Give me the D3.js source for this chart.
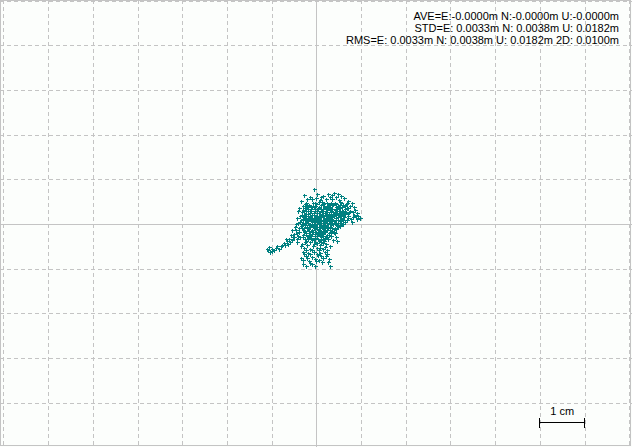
<!DOCTYPE html>
<html>
<head>
<meta charset="utf-8">
<script src="https://cdn.jsdelivr.net/npm/d3@7"></script>
<style>
  html, body { margin: 0; padding: 0; background: #fcfefc; }
  svg { display: block; }
</style>
</head>
<body>
<div id="chart"></div>
<script>
const width = 632, height = 447;

// position solution offsets, E / N in mm
const eastMm = [
  -0.5,-2.8,-1.5,0.2,1.5,4.0,4.5,5.5,6.2,3.0,2.2,-3.5,-1.0,0.8,7.0,5.0,3.6,6.8,8.0,7.6,
  8.6,9.4,9.8,8.9,8.2,7.8,7.2,7.9,6.8,7.5,9.0,6.5,
  -2.2,-0.8,0.5,1.8,2.9,4.2,5.6,
  -3.0,-1.6,-0.3,1.0,2.3,3.5,4.8,6.0,
  -2.5,-1.1,0.3,1.5,2.8,4.1,5.3,6.4,
  -3.2,-1.9,-0.6,0.8,2.0,3.3,4.6,5.8,
  -2.7,-1.3,0.0,1.3,2.6,3.9,5.2,6.2,
  -3.4,-2.0,-0.7,0.6,1.9,3.2,4.5,5.6,
  -2.9,-1.5,-0.2,1.1,2.4,3.7,4.9,6.0,
  -3.5,-2.1,-0.8,0.5,1.8,3.0,4.2,5.4,
  -3.0,-1.6,-0.3,1.0,2.3,3.6,4.5,
  -2.4,-1.0,0.4,1.6,2.8,3.3,
  -3.0,-1.7,-0.3,1.0,2.2,
  -2.3,-0.9,0.6,1.8,
  -1.9,-0.6,0.7,2.0,-2.4,-1.2,0.1,1.4,2.5,
  -1.8,-0.5,0.9,2.1,-2.3,-1.0,0.3,1.7,2.9,
  -1.9,-0.4,0.9,2.2,-2.5,-1.2,0.2,1.5,2.7,
  -2.0,-0.6,0.8,2.0,-1.3,0.0,1.3,-2.0,-0.4,0.9,
  3.8,5.0,4.4,5.7,3.7,5.0,4.3,5.6,
  -11.0,-10.6,-10.0,-9.4,-10.3,-9.0,-8.3,-7.7,-7.2,-6.6,-6.0,-6.3,-5.6,-5.0,-4.6,-5.2,-4.4,-4.0,-4.8,-4.2,-5.4,-3.8,
  -3.8,-4.1,-3.6,-4.3,
  -3.2,-2.0,-0.6,0.9,2.1,3.0,-2.7,-1.4,0.1,1.5,2.5,-3.0,-1.8,-0.5,0.9,2.3,-2.4,-1.0,0.4,1.6,2.8,
  -2.9,-1.6,0.0,-0.9,-3.0,3.0,2.6,1.2,-2.2,-3.5,-0.2,
  4.2,4.4,4.6,3.8,
  -2.6,-1.2,0.0,1.4,2.6,3.0,4.5,5.3,6.4,
  -3.0,-1.8,-0.4,1.0,2.2,3.5,4.7,6.0,
  -2.6,-1.3,0.2,1.5,2.8,3.0,4.0,5.3,6.6,
  -3.0,-1.7,-0.3,1.0,2.3,3.5,4.8,6.0,
  -2.6,-1.2,0.2,1.5,2.8,4.0,5.2,6.5,
  -3.2,-1.9,-0.6,0.7,2.0,3.2,4.4,5.5,
  -2.7,-1.4,0.0,1.2,2.5,3.6,4.8,
  -2.5,-1.0,0.4,1.7,3.0,4.0,
  -1.6,-0.2,1.2,2.4,
  -2.5,-1.2,0.3,1.5,2.6,
  -10.8,-9.8,-8.8,-8.0,-7.0,-6.8,-5.8,-5.5,-4.9,-4.3,-4.6,-3.9,-4.4,-3.6,
  -2.6,-1.3,0.2,1.5,-3.4,-0.8,0.8,2.0,-2.2,-0.9,0.5,1.9,-2.8,-1.4,0.1,1.0,-2.0,-0.4,2.2,-1.3,0.6,
  -2.0,-0.2,1.2,2.4,3.2,5.2,6.6,
  -2.2,-0.9,0.6,1.8,3.0,4.4,5.8,6.9,
  -2.8,-1.5,-0.2,1.2,2.4,3.7,5.0,6.2,7.2,
  -3.3,-2.2,-0.9,0.5,1.8,3.3,4.5,5.6,7.0,
  -3.0,-1.6,-0.3,1.0,2.4,3.6,4.9,6.0,
  -3.6,-2.3,-0.9,0.4,1.7,3.0,4.2,5.3,
  -3.1,-1.7,-0.4,0.9,2.2,3.4,4.6,
  -3.3,-1.8,-0.2,1.4,2.7,3.9,
  -2.8,-0.7,0.7,2.0,3.2,
  -2.9,-1.2,0.2,1.6,2.8,
  -1.8,-0.6,0.8,2.0,-0.3,1.1,
  8.4,9.2,8.5,7.4,8.1,7.0,
  -2.0,0.0,1.0,2.6,4.8,3.5
];
const northMm = [
  7.8,6.5,6.0,6.8,6.2,7.0,6.0,6.3,5.8,6.0,5.5,5.2,5.5,5.3,5.2,5.4,5.6,4.6,4.8,4.0,
  3.2,1.8,1.4,1.9,2.6,1.2,1.8,0.4,0.9,3.0,2.5,2.2,
  4.8,4.6,4.9,4.7,4.5,4.8,4.6,
  4.1,4.3,4.0,4.2,4.0,4.3,4.0,4.2,
  3.5,3.3,3.6,3.3,3.5,3.2,3.6,3.3,
  2.6,2.8,2.5,2.7,2.5,2.8,2.5,2.7,
  1.8,1.9,1.7,2.0,1.7,1.9,1.8,1.5,
  1.0,1.1,0.9,1.2,0.9,1.1,0.8,1.1,
  0.3,0.1,0.4,0.2,0.3,0.0,0.3,-0.1,
  -0.5,-0.7,-0.5,-0.7,-0.4,-0.6,-0.8,-0.5,
  -1.3,-1.5,-1.2,-1.5,-1.3,-1.6,-1.2,
  -2.1,-2.3,-2.0,-2.3,-2.1,-2.6,
  -3.0,-2.9,-3.2,-3.0,-2.8,
  -3.8,-3.6,-3.9,-3.7,
  3.9,3.7,3.8,3.7,3.0,2.9,3.0,3.0,3.1,
  2.2,2.1,2.2,2.1,1.4,1.4,1.3,1.4,1.3,
  0.6,0.6,0.6,0.6,-0.2,-0.2,-0.1,-0.2,-0.1,
  -1.0,-0.9,-1.0,-1.0,-1.8,-1.7,-1.9,-2.6,-2.6,-2.5,
  4.4,3.9,2.9,3.0,2.2,2.2,1.4,1.4,
  -5.7,-5.1,-5.5,-5.9,-6.2,-5.3,-5.6,-4.6,-4.2,-3.9,-3.3,-4.4,-2.5,-2.2,-1.4,-3.0,-3.4,-2.6,-0.6,0.2,-1.3,-1.8,
  3.6,2.9,1.9,1.4,
  -4.5,-4.6,-4.5,-4.8,-4.4,-5.0,-5.4,-5.5,-5.3,-5.6,-5.9,-6.3,-6.4,-6.2,-6.5,-6.8,-7.2,-7.3,-7.0,-7.5,-7.8,
  -8.1,-8.3,-8.2,-9.0,-8.9,-9.4,-8.6,-8.6,-9.5,-7.5,-9.4,
  -2.0,-3.0,-3.9,-3.5,
  4.4,4.0,4.4,4.4,4.3,3.9,4.4,4.2,4.0,
  3.2,3.4,3.3,3.4,3.3,3.4,3.3,3.0,
  2.3,2.5,2.4,2.4,2.3,2.0,2.5,2.5,2.6,
  1.5,1.6,1.6,1.6,1.5,1.5,1.6,2.0,
  0.8,0.8,0.9,0.8,0.9,0.6,0.6,0.5,
  0.0,0.2,0.1,0.0,0.2,0.3,0.0,0.3,
  -0.8,-0.6,-0.6,-0.7,-0.7,-0.9,-0.7,
  -1.6,-1.3,-1.4,-1.6,-1.4,-1.8,
  -2.4,-2.2,-2.2,-2.5,
  -3.4,-3.1,-3.4,-3.3,-3.4,
  -5.9,-6.0,-5.0,-4.9,-4.8,-3.4,-4.0,-3.6,-2.8,-2.0,-0.1,-0.9,-4.0,-3.0,
  -4.0,-4.1,-4.2,-4.2,-5.0,-5.0,-5.3,-5.2,-5.9,-5.8,-5.9,-6.2,-6.8,-6.8,-6.7,-7.2,-7.7,-7.8,-7.2,-8.7,-8.0,
  4.0,4.7,4.9,4.8,4.6,5.0,4.4,
  3.7,3.9,3.9,3.9,3.2,3.7,3.8,3.5,
  2.9,3.0,2.9,2.8,2.7,2.6,2.8,2.4,2.4,
  2.0,1.9,2.0,1.9,1.8,1.6,2.0,2.1,1.3,
  1.2,1.2,1.2,1.0,1.1,1.0,1.0,0.8,
  0.5,0.4,0.5,0.4,0.4,0.6,0.3,-0.2,
  -0.3,-0.3,-0.3,-0.4,-0.4,-0.3,-0.3,
  -1.0,-1.1,-0.9,-1.1,-1.0,-1.2,
  -1.9,-1.8,-1.8,-1.8,-2.0,
  -2.5,-2.6,-2.7,-2.7,-2.5,
  -3.3,-3.4,-3.5,-3.2,-4.0,-4.1,
  2.0,1.1,3.8,2.7,1.5,3.5,
  5.6,5.8,6.0,6.6,6.7,6.4
];

const statLines = [
  "AVE=E:-0.0000m N:-0.0000m U:-0.0000m",
  "STD=E: 0.0033m N: 0.0038m U: 0.0182m",
  "RMS=E: 0.0033m N: 0.0038m U: 0.0182m 2D: 0.0100m"
];
const scaleLabel = "1 cm";

const points = eastMm.map((e, i) => ({ e: e / 1000, n: northMm[i] / 1000 }));

const cx = 316.3, cy = 224, pxPerM = 4470; // 1 cm = 44.7 px
const x = d3.scaleLinear()
    .domain([-cx / pxPerM, (width - cx) / pxPerM])
    .range([0, width]);
const y = d3.scaleLinear()
    .domain([-(height - cy) / pxPerM, cy / pxPerM])
    .range([height, 0]);

const svg = d3.select("#chart").append("svg")
    .attr("width", width)
    .attr("height", height);

svg.append("rect")
    .attr("width", width).attr("height", height)
    .attr("fill", "#fcfefc");

// grid, every 1 cm
const xTicks = d3.range(-7, 8).map(d => d / 100);
const yTicks = d3.range(-5, 6).map(d => d / 100);

svg.append("g").selectAll("line")
    .data(xTicks)
    .enter().append("line")
    .attr("x1", d => Math.round(x(d)) + 0.5)
    .attr("x2", d => Math.round(x(d)) + 0.5)
    .attr("y1", 0).attr("y2", height)
    .attr("stroke", "#c4c4c4")
    .attr("stroke-dasharray", d => d === 0 ? null : "4,3");

svg.append("g").selectAll("line")
    .data(yTicks)
    .enter().append("line")
    .attr("y1", d => Math.round(y(d)) + 0.5)
    .attr("y2", d => Math.round(y(d)) + 0.5)
    .attr("x1", 0).attr("x2", width)
    .attr("stroke", "#c4c4c4")
    .attr("stroke-dasharray", d => d === 0 ? null : "4,3");

// frame
svg.append("rect")
    .attr("x", 0.5).attr("y", 0.5)
    .attr("width", width - 2).attr("height", height - 2)
    .attr("fill", "none")
    .attr("stroke", "#c4c4c4");

// positions as small plus marks
svg.append("g").selectAll("path")
    .data(points)
    .enter().append("path")
    .attr("transform", d => `translate(${Math.round(x(d.e)) + 0.5},${Math.round(y(d.n)) + 0.5})`)
    .attr("d", "M-2,0H2M0,-2V2")
    .attr("fill", "none")
    .attr("stroke", "#008080")
    .attr("stroke-width", 1)
    .attr("shape-rendering", "crispEdges");

// statistics text
svg.append("g").selectAll("text")
    .data(statLines)
    .enter().append("text")
    .attr("x", 619)
    .attr("y", (d, i) => 20 + i * 12)
    .attr("text-anchor", "end")
    .attr("font-family", "'Liberation Sans', Arial, sans-serif")
    .attr("font-size", "11px")
    .attr("fill", "#000")
    .text(d => d);

// 1 cm scale bar
const bx0 = x(0.05), bx1 = x(0.06), by = 422.5;
const bar = svg.append("g").attr("stroke", "#000").attr("shape-rendering", "crispEdges");
bar.append("line").attr("x1", bx0).attr("x2", bx1).attr("y1", by).attr("y2", by);
bar.append("line").attr("x1", bx0).attr("x2", bx0).attr("y1", by - 5).attr("y2", by + 5);
bar.append("line").attr("x1", bx1).attr("x2", bx1).attr("y1", by - 5).attr("y2", by + 5);
svg.append("text")
    .attr("x", (bx0 + bx1) / 2)
    .attr("y", 415)
    .attr("text-anchor", "middle")
    .attr("font-family", "'Liberation Sans', Arial, sans-serif")
    .attr("font-size", "11px")
    .text(scaleLabel);
</script>
</body>
</html>
